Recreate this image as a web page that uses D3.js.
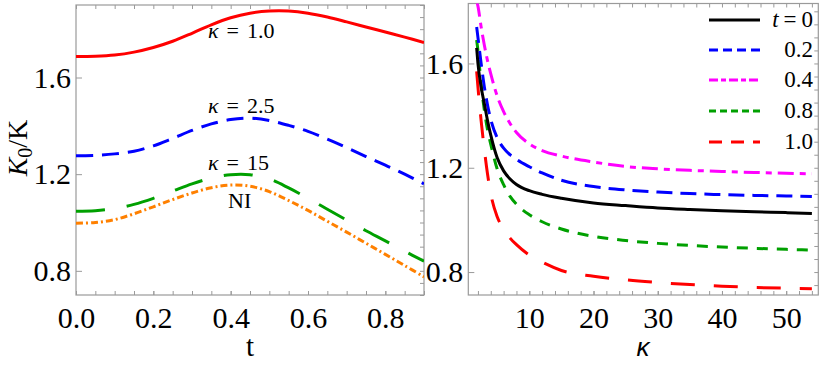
<!DOCTYPE html>
<html><head><meta charset="utf-8">
<script src="https://cdn.jsdelivr.net/npm/d3@7"></script>
<style>
body{margin:0;background:#fff}
svg{display:block}
</style>
</head><body>
<svg id="c" width="822" height="366"></svg>
<script>
// ---------- data: left panel (K0/K vs t) ----------
const tValues   = [0,0.05,0.1,0.15,0.2,0.25,0.3,0.35,0.4,0.45,0.5,0.55,0.6,0.65,0.7,0.75,0.8,0.85,0.9];
const kappa1    = [1.687,1.688,1.693,1.705,1.724,1.750,1.783,1.818,1.847,1.866,1.875,1.875,1.866,1.850,1.830,1.809,1.788,1.767,1.745];
const kappa2_5  = [1.276,1.278,1.284,1.295,1.317,1.348,1.381,1.408,1.426,1.432,1.422,1.402,1.377,1.345,1.310,1.273,1.237,1.200,1.160];
const kappa15   = [1.047,1.049,1.058,1.075,1.100,1.130,1.160,1.184,1.198,1.198,1.180,1.143,1.100,1.055,1.010,0.966,0.924,0.881,0.840];
const kappaNI   = [0.997,1.000,1.012,1.036,1.065,1.095,1.122,1.144,1.155,1.150,1.128,1.091,1.050,1.005,0.960,0.914,0.868,0.822,0.775];
const leftLabels = ["κ = 1.0","κ = 2.5","κ = 15","NI"];
const leftXTicks = [0.0,0.2,0.4,0.6,0.8];
const leftYTicks = [0.8,1.2,1.6];

// ---------- data: right panel (K0/K vs kappa) ----------
const kValues = [1.8,2,2.5,3,3.5,4,5,6,7,8,10,12,15,20,25,30,35,40,45,50,54];
const t0   = [1.66,1.60,1.51,1.445,1.38,1.325,1.238,1.188,1.157,1.136,1.112,1.098,1.083,1.065,1.055,1.046,1.040,1.035,1.031,1.028,1.025];
const t02  = [1.74,1.70,1.60,1.51,1.44,1.385,1.315,1.275,1.250,1.232,1.204,1.180,1.152,1.128,1.115,1.107,1.101,1.097,1.094,1.092,1.090];
const t04  = [1.84,1.82,1.74,1.67,1.61,1.56,1.475,1.415,1.370,1.335,1.292,1.266,1.245,1.222,1.205,1.196,1.190,1.186,1.182,1.179,1.177];
const t08  = [1.69,1.65,1.52,1.42,1.345,1.29,1.195,1.135,1.090,1.060,1.020,0.993,0.965,0.937,0.921,0.910,0.902,0.896,0.891,0.887,0.884];
const t10  = [1.57,1.51,1.38,1.27,1.175,1.100,1.012,0.965,0.930,0.905,0.865,0.838,0.806,0.784,0.770,0.760,0.752,0.746,0.741,0.738,0.736];
const legendLabels = ["0","0.2","0.4","0.8","1.0"];
const rightXTicks = [10,20,30,40,50];
const rightYTicks = [0.8,1.2,1.6];

const SERIF = "'Liberation Serif', Tinos, 'Times New Roman', 'Nimbus Roman', 'DejaVu Serif', serif";
const svg = d3.select("#c");
const gray = "#9a9a9a";
const tickFont = 30;

function frame(g, x0, x1, y0, y1) {
  g.append("rect").attr("x", x0).attr("y", y0).attr("width", x1 - x0).attr("height", y1 - y0)
    .attr("fill", "none").attr("stroke", gray).attr("stroke-width", 1.2);
}
function styleAxis(sel) {
  sel.select(".domain").remove();
  sel.selectAll(".tick line").attr("stroke", gray).attr("stroke-width", 1);
  sel.selectAll(".tick text").attr("fill", "#000").style("font-size", tickFont + "px");
}
function panel(id, xr, yr, xdom, ydom, xTicks, yTicks, xMinor, yMinor, xFmt) {
  const x = d3.scaleLinear().domain(xdom).range(xr);
  const y = d3.scaleLinear().domain(ydom).range(yr);
  const g = svg.append("g");
  svg.append("clipPath").attr("id", id).append("rect")
    .attr("x", xr[0]).attr("y", yr[1]).attr("width", xr[1] - xr[0]).attr("height", yr[0] - yr[1]);
  g.append("g").attr("transform", `translate(0,${yr[0]})`)
    .call(d3.axisBottom(x).tickValues(xMinor).tickSize(-4).tickFormat(""))
    .call(styleAxis);
  g.append("g").attr("transform", `translate(0,${yr[0]})`)
    .call(d3.axisBottom(x).tickValues(xTicks).tickSize(-4).tickPadding(12).tickFormat(xFmt))
    .call(styleAxis);
  g.append("g").attr("transform", `translate(0,${yr[1]})`)
    .call(d3.axisTop(x).tickValues(xMinor).tickSize(-4).tickFormat(""))
    .call(styleAxis);
  g.append("g").attr("transform", `translate(${xr[0]},0)`)
    .call(d3.axisLeft(y).tickValues(yTicks).tickSize(-6).tickPadding(5).tickFormat(d3.format(".1f")))
    .call(styleAxis);
  g.append("g").attr("transform", `translate(${xr[1]},0)`)
    .call(d3.axisRight(y).tickValues(yMinor).tickSize(-4).tickFormat(""))
    .call(styleAxis);
  frame(g, xr[0], xr[1], yr[1], yr[0]);
  return {x, y, g};
}

// ---------- left panel ----------
const tMinor = d3.range(0, 0.9001, 0.05);
const yMinorL = d3.range(0.7, 1.9001, 0.05);
const L = panel("clipL", [76, 424], [295, 5], [0, 0.9], [0.7, 1.9], leftXTicks, leftYTicks, tMinor, yMinorL, d3.format(".1f"));

const lineL = d3.line().x((d, i) => L.x(tValues[i])).y(d => L.y(d)).curve(d3.curveCatmullRom.alpha(0.5));
const leftSeries = [
  {v: kappa1,   color: "#ff0000", dash: null},
  {v: kappa2_5, color: "#0000ff", dash: "17,9"},
  {v: kappa15,  color: "#00a000", dash: "29,22"},
  {v: kappaNI,  color: "#ff8000", dash: "7,3,2,3"}
];
const gL = svg.append("g").attr("clip-path", "url(#clipL)");
leftSeries.forEach(s => {
  gL.append("path").attr("d", lineL(s.v)).attr("fill", "none")
    .attr("stroke", s.color).attr("stroke-width", 3)
    .attr("stroke-dasharray", s.dash);
});

// annotations
const annPos = [[208, 38], [208, 113], [208, 170], [228, 208]];
leftLabels.forEach((lab, i) => {
  const t = svg.append("text").attr("x", annPos[i][0]).attr("y", annPos[i][1]).style("font-size", "22px");
  if (lab.startsWith("κ")) {
    const parts = lab.split(" ");
    t.append("tspan").style("font-style", "italic").text(parts[0]);
    t.append("tspan").attr("dx", 8).text(parts[1]);
    t.append("tspan").attr("dx", 8).text(parts[2]);
  } else {
    t.text(lab);
  }
});

// ---------- right panel ----------
const kMinor = d3.range(2, 55, 2);
const yMinorR = d3.range(0.75, 1.8301, 0.05);
const R = panel("clipR", [468.3, 818.3], [295, 3.5], [0.5, 55], [0.712, 1.83], rightXTicks, rightYTicks, kMinor, yMinorR, d3.format("d"));

const lineR = d3.line().x((d, i) => R.x(kValues[i])).y(d => R.y(d)).curve(d3.curveMonotoneX);
const rightSeries = [
  {v: t10, color: "#ff0000", dash: "24,19", ldash: "13,9"},
  {v: t08, color: "#00a000", dash: "11,9",  ldash: "7,4"},
  {v: t04, color: "#ff00ff", dash: "16,6,6,6", ldash: "9,3,5,3"},
  {v: t02, color: "#0000ff", dash: "16,8",  ldash: "9,5"},
  {v: t0,  color: "#000000", dash: null,    ldash: null}
];
const gR = svg.append("g").attr("clip-path", "url(#clipR)");
rightSeries.forEach(s => {
  gR.append("path").attr("d", lineR(s.v)).attr("fill", "none")
    .attr("stroke", s.color).attr("stroke-width", 3)
    .attr("stroke-dasharray", s.dash);
});

// legend
const legendOrder = [4, 3, 2, 1, 0];
const legY = [20, 50, 80, 111, 142];
legendOrder.forEach((si, i) => {
  const s = rightSeries[si];
  svg.append("line").attr("x1", 709).attr("x2", 760).attr("y1", legY[i]).attr("y2", legY[i])
    .attr("stroke", s.color).attr("stroke-width", 3).attr("stroke-dasharray", s.ldash);
  const t = svg.append("text").attr("x", 813).attr("y", legY[i] + 7).attr("text-anchor", "end").style("font-size", "23px");
  if (i === 0) {
    t.append("tspan").style("font-style", "italic").text("t");
    t.append("tspan").attr("dx", 5).text("=");
    t.append("tspan").attr("dx", 5).text(legendLabels[i]);
  } else {
    t.text(legendLabels[i]);
  }
});

// axis titles
svg.append("text").attr("x", 250).attr("y", 356).attr("text-anchor", "middle").style("font-size", "29px").text("t");
const yl = svg.append("text").attr("transform", "translate(27,148) rotate(-90)").attr("text-anchor", "middle").style("font-size", "28px");
yl.append("tspan").style("font-style", "italic").text("K");
yl.append("tspan").style("font-size", "20px").attr("dy", 5).text("0");
yl.append("tspan").attr("dy", -5).text("/K");

// apply serif font to all texts (inline style wins over axis attributes)
svg.selectAll("text").style("font-family", SERIF).attr("fill", "#000");

// kappa axis title (sans italic as in the reference)
svg.append("text").attr("x", 643).attr("y", 356).attr("text-anchor", "middle")
  .style("font-family", "'Liberation Sans', Arial, sans-serif").style("font-size", "26px")
  .style("font-style", "italic").attr("fill", "#000").text("κ");
</script>
</body></html>
